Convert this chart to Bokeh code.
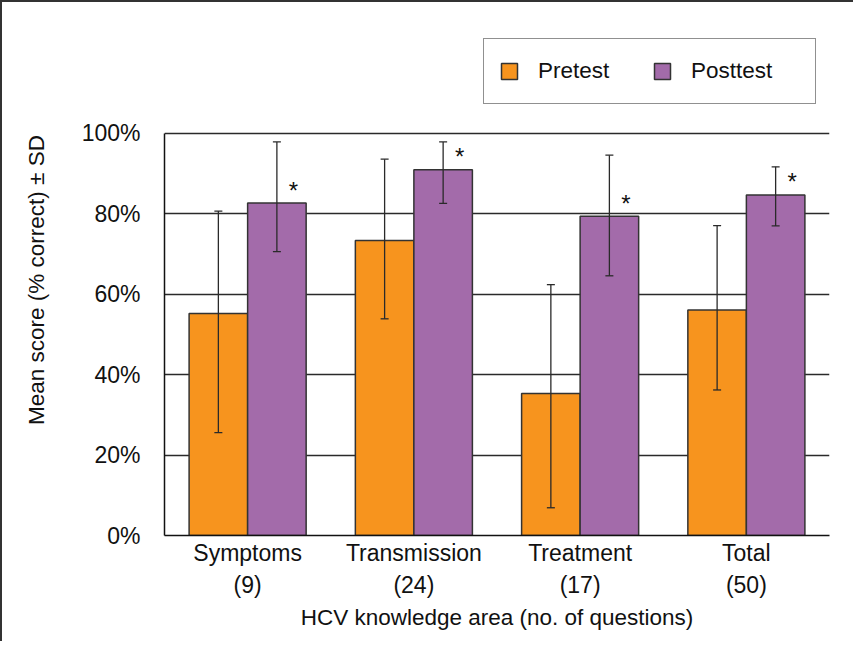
from bokeh.plotting import figure
from bokeh.models import (ColumnDataSource, Whisker, TeeHead, Legend, LegendItem,
                          FixedTicker, Range1d)
from bokeh.core.properties import value
from bokeh.embed import file_html
from bokeh.resources import INLINE

# ---- data (% correct) ----
categories = ["Symptoms\n(9)", "Transmission\n(24)", "Treatment\n(17)", "Total\n(50)"]
pretest = [55.2, 73.4, 35.3, 56.1]
pretest_low = [25.6, 53.9, 6.9, 36.2]
pretest_high = [80.7, 93.6, 62.4, 77.1]
posttest = [82.7, 91.0, 79.4, 84.7]
posttest_low = [70.6, 82.6, 64.6, 77.0]
posttest_high = [97.9, 97.9, 94.6, 91.7]
significant = ["*", "*", "*", "*"]
y_ticks = [0, 20, 40, 60, 80, 100]

FONT = "Liberation Sans"
ORANGE = "#F7941E"
PURPLE = "#A36BAA"
DARK = "#2a2a2a"

centers = [i + 0.5 for i in range(len(categories))]
off = 0.176
bw = 0.352

pre_src = ColumnDataSource(dict(
    x=[c - off for c in centers], top=pretest, lo=pretest_low, hi=pretest_high))
post_src = ColumnDataSource(dict(
    x=[c + off for c in centers], top=posttest, lo=posttest_low, hi=posttest_high))
star_src = ColumnDataSource(dict(
    x=[c + off + 0.1 for c in centers], y=posttest, t=significant))

# frame: window x 170..835, y 30..541 ; 100% at y=139 -> 4.02 px per %
p = figure(width=853, height=641, output_backend="svg", toolbar_location=None,
           x_range=Range1d(0, 4), y_range=Range1d(0, 127.11),
           min_border_left=162, min_border_right=26, min_border_top=22,
           min_border_bottom=108)
p.styles = {"border-left": "2px solid #333", "border-top": "2px solid #333"}
p.outline_line_color = None
p.background_fill_color = "white"

r_pre = p.vbar(x="x", top="top", width=bw, bottom=0, source=pre_src,
               fill_color=ORANGE, line_color="#333333", line_width=1.5)
r_post = p.vbar(x="x", top="top", width=bw, bottom=0, source=post_src,
                fill_color=PURPLE, line_color="#333333", line_width=1.5)

for src in (pre_src, post_src):
    w = Whisker(source=src, base="x", lower="lo", upper="hi", level="overlay",
                line_color=DARK, line_width=1.3,
                upper_head=TeeHead(size=8, line_color=DARK, line_width=1.3),
                lower_head=TeeHead(size=8, line_color=DARK, line_width=1.3))
    p.add_layout(w)

p.text(x="x", y="y", text="t", source=star_src, text_font=value(FONT),
       text_font_size="24px", text_align="center", text_baseline="middle",
       y_offset=-13, text_color="#111111")

# axes
p.xaxis.ticker = FixedTicker(ticks=centers)
p.xaxis.major_label_overrides = {c: lab for c, lab in zip(centers, categories)}
p.xaxis.major_tick_line_color = None
p.xaxis.minor_tick_line_color = None
p.xaxis.major_tick_out = 0
p.xaxis.major_label_standoff = 4
p.xaxis.major_label_text_line_height = 1.235
p.xaxis.axis_line_color = "#111111"
p.xaxis.axis_line_width = 1.5
p.xaxis.axis_label = "HCV knowledge area (no. of questions)"
p.xaxis.axis_label_standoff = 4

p.yaxis.ticker = FixedTicker(ticks=y_ticks)
p.yaxis.bounds = (0, 100)
p.yaxis.major_label_overrides = {t: f"{t}%" for t in y_ticks}
p.yaxis.major_tick_line_color = None
p.yaxis.minor_tick_line_color = None
p.yaxis.major_tick_out = 0
p.yaxis.major_label_standoff = 24
p.yaxis.axis_line_color = "#111111"
p.yaxis.axis_line_width = 1.5
p.yaxis.axis_label = "Mean score (% correct) \u00b1 SD"
p.yaxis.axis_label_standoff = 30

for ax in (p.xaxis[0], p.yaxis[0]):
    ax.major_label_text_font = FONT
    ax.major_label_text_font_size = "23px"
    ax.major_label_text_color = "#111111"
    ax.axis_label_text_font = FONT
    ax.axis_label_text_font_size = "22.5px"
    ax.axis_label_text_font_style = "normal"
    ax.axis_label_text_color = "#111111"

p.xgrid.grid_line_color = None
p.ygrid.grid_line_color = "#2a2a2a"
p.ygrid.grid_line_width = 1.3
p.ygrid.ticker = FixedTicker(ticks=y_ticks)

legend = Legend(items=[LegendItem(label="Pretest", renderers=[r_pre]),
                       LegendItem(label="Posttest", renderers=[r_post])],
                orientation="horizontal", location=(319, 431),
                glyph_width=20, glyph_height=20, label_standoff=19,
                label_width=109, label_height=34, spacing=5, padding=15,
                margin=0,
                label_text_font=FONT, label_text_font_size="22.5px",
                label_text_color="#111111",
                border_line_color="#222222", border_line_width=1.5,
                background_fill_color="white", background_fill_alpha=1)
p.add_layout(legend, "center")

open("out.html", "w").write(file_html(p, INLINE))
